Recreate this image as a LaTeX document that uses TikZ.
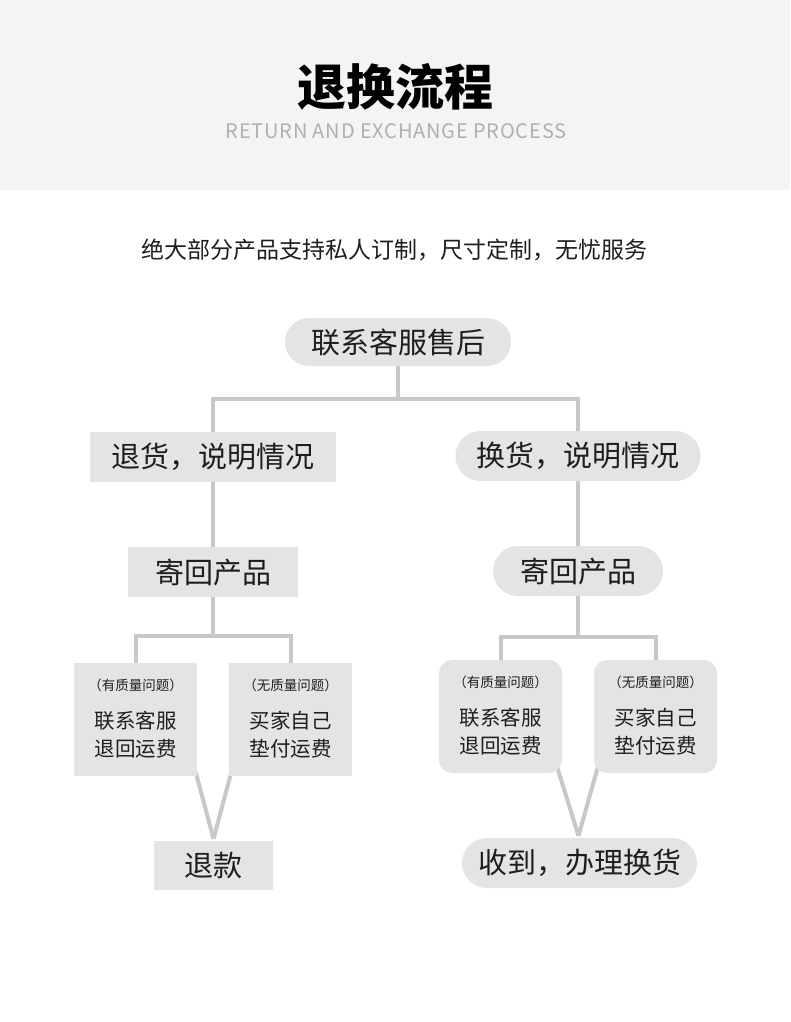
\documentclass[tikz,border=0pt]{standalone}
\usepackage{fontspec}
\newfontfamily\cjk{Noto Sans CJK SC}
\newfontfamily\cjkls[LetterSpace=4]{Noto Sans CJK SC}
\usetikzlibrary{calc,backgrounds}
\definecolor{hdr}{HTML}{F4F4F4}
\definecolor{boxc}{HTML}{E4E4E4}
\definecolor{linec}{HTML}{C8C8C8}
\definecolor{txt}{HTML}{1E1E1E}
\definecolor{subc}{HTML}{B0B0B0}
\tikzset{
  base/.style={fill=boxc, inner sep=0pt, text=txt, rectangle, font=\cjk\fontsize{29}{33}\selectfont},
  sqbox/.style={base},
  pillbox/.style={base, rounded corners=24pt},
  smallsq/.style={base, minimum width=123pt, minimum height=113pt},
  smallrd/.style={smallsq, rounded corners=13pt},
  tinytext/.style={inner sep=0pt, text=txt, font=\cjk\fontsize{13.5}{16}\selectfont},
  midtext/.style={inner sep=0pt, text=txt, font=\cjk\fontsize{20.5}{24}\selectfont},
  conn/.style={draw=linec, line width=4pt},
}
\begin{document}
\begin{tikzpicture}[x=1pt,y=-1pt]
\useasboundingbox (0,0) rectangle (790,1022);
\node[inner sep=0pt, text=black] (title) at (395,87) {\cjk\bfseries\fontsize{49}{55}\selectfont 退换流程};
\node[inner sep=0pt, text=subc] (subt) at (396,131) {\cjkls\fontsize{20}{24}\selectfont RETURN AND EXCHANGE PROCESS};
\node[inner sep=0pt, text=txt] (slogan) at (394,250) {\cjk\fontsize{23}{27}\selectfont 绝大部分产品支持私人订制，尺寸定制，无忧服务};

% level 1
\node[pillbox, minimum width=226pt, minimum height=48pt] (top) at (398,342) {联系客服售后};
% level 2
\node[sqbox, minimum width=246pt, minimum height=50pt] (L1) at (213,457) {退货，说明情况};
\node[pillbox, rounded corners=25pt, minimum width=245pt, minimum height=50pt] (R1) at (578,456) {换货，说明情况};
% level 3
\node[sqbox, minimum width=170pt, minimum height=50pt] (L2) at (213,572) {寄回产品};
\node[pillbox, rounded corners=25pt, minimum width=170pt, minimum height=50pt] (R2) at (578,571) {寄回产品};
% level 4
\node[smallsq] (La) at (135.5,719.5) {};
\node[smallsq] (Lb) at (290.5,719.5) {};
\node[smallrd] (Ra) at (500.5,716.5) {};
\node[smallrd] (Rb) at (655.5,716.5) {};
\foreach \b/\t/\p/\q in {La/有/联系客服/退回运费, Lb/无/买家自己/垫付运费, Ra/有/联系客服/退回运费, Rb/无/买家自己/垫付运费}{
  \node[tinytext] (\b-s) at ($(\b.north)+(0,23)$) {（\t 质量问题）};
  \node[midtext] (\b-1) at ($(\b.north)+(0,57.5)$) {\p};
  \node[midtext] (\b-2) at ($(\b.north)+(0,86)$) {\q};
}
% level 5
\node[sqbox, minimum width=119pt, minimum height=49pt] (Lf) at (213.5,865.5) {退款};
\node[pillbox, rounded corners=25pt, minimum width=235pt, minimum height=50pt] (Rf) at (579.5,863) {收到，办理换货};

\coordinate (j1) at (398,399);
\coordinate (j2) at (213,636);
\coordinate (j3) at (578,637);

\begin{scope}[on background layer]
\fill[white] (0,0) rectangle (790,1022);
\fill[hdr] (0,0) rectangle (790,190);
\draw[conn] (top.south) -- (j1);
\draw[conn] (j1) -| (L1.north);
\draw[conn] (j1) -| (R1.north);
\draw[conn] (L1.south) -- (L2.north);
\draw[conn] (R1.south) -- (R2.north);
\draw[conn] (L2.south) -- (j2);
\draw[conn] (j2) -| (La.north);
\draw[conn] (j2) -| (Lb.north);
\draw[conn] (R2.south) -- (j3);
\draw[conn] (j3) -| (Ra.north);
\draw[conn] (j3) -| (Rb.north);
\draw[conn] ($(La.south east)+(-1.5,-4)$) -- ($(Lf.north)+(0,-2)$);
\draw[conn] ($(Lb.south west)+(2.5,-4)$) -- ($(Lf.north)+(0,-2)$);
\draw[conn] ($(Ra.south east)+(-5,-6)$) -- ($(Rf.north)+(-1,-2)$);
\draw[conn] ($(Rb.south west)+(4,-6)$) -- ($(Rf.north)+(-1,-2)$);
\end{scope}
\end{tikzpicture}
\end{document}
